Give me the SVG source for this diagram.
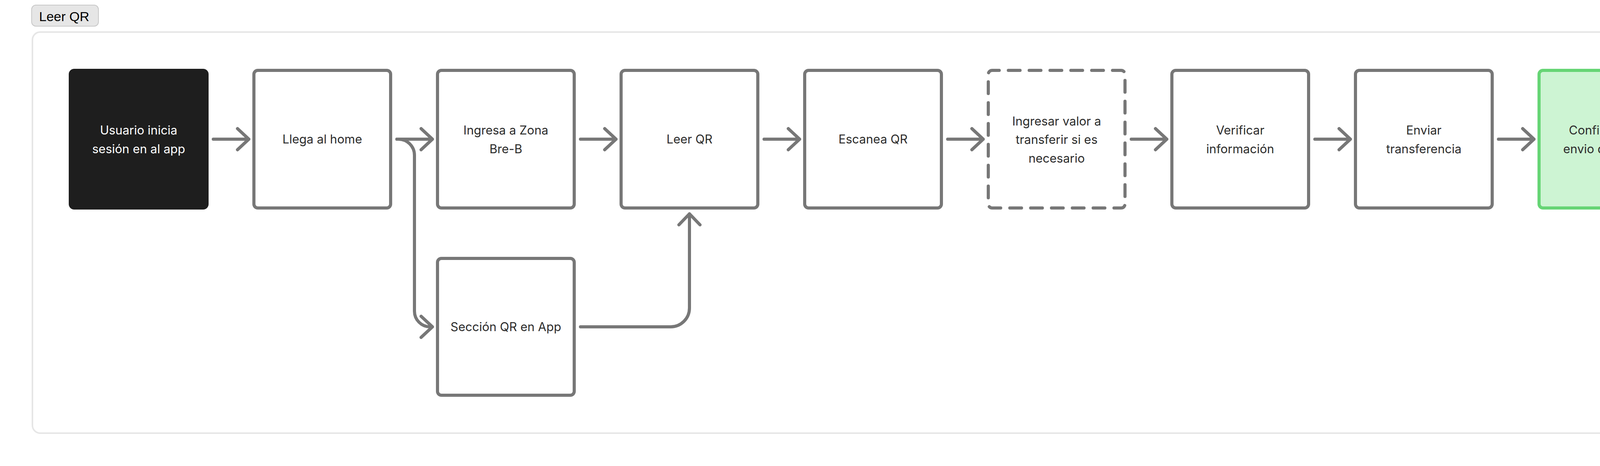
<svg xmlns="http://www.w3.org/2000/svg" width="4472" height="1192" viewBox="0 0 4472 1192">
<style>
.bg{fill:#ffffff}
.frame{fill:#ffffff;stroke:#e6e6e6;stroke-width:4}
.badge{fill:#e6e6e6;stroke:#c8c8c8;stroke-width:2}
.badge-t{font-family:"Liberation Sans",Arial,sans-serif;font-size:34px;fill:#000000}
.node{fill:#ffffff;stroke:#777777;stroke-width:8}
.dark{fill:#1e1e1e;stroke:#1e1e1e;stroke-width:8}
.green{fill:#cdf4d3;stroke:#66d575;stroke-width:8}
.dashed{fill:#ffffff;stroke:#777777;stroke-width:8;stroke-linecap:round;stroke-dasharray:30 23.34;stroke-dashoffset:12}
.t{font-family:Inter,"Noto Sans",sans-serif;font-size:31px;fill:#2c2c2c;text-anchor:middle}
.tw{fill:#ffffff}
.c{fill:none;stroke:#777777;stroke-width:8;stroke-linecap:round;stroke-linejoin:round}
</style>
<rect class="bg" x="0" y="0" width="4472" height="1192"/>
<rect class="frame" x="83" y="82" width="4305" height="1026" rx="20"/>
<g id="title">
<rect class="badge" x="81" y="13" width="171" height="54" rx="11"/>
<text class="badge-t" x="100" y="54">Leer QR</text>
</g>
<g id="n1">
<rect class="dark" x="180" y="180" width="350" height="352" rx="10"/>
<text class="t tw" x="355" y="344">Usuario inicia</text>
<text class="t tw" x="355" y="392">sesión en al app</text>
</g>
<g id="n2">
<rect class="node" x="650" y="180" width="350" height="352" rx="10"/>
<text class="t" x="825" y="367">Llega al home</text>
</g>
<g id="n3">
<rect class="node" x="1120" y="180" width="350" height="352" rx="10"/>
<text class="t" x="1295" y="344">Ingresa a Zona</text>
<text class="t" x="1295" y="392">Bre-B</text>
</g>
<g id="n4">
<rect class="node" x="1590" y="180" width="350" height="352" rx="10"/>
<text class="t" x="1765" y="367">Leer QR</text>
</g>
<g id="n5">
<rect class="node" x="2060" y="180" width="350" height="352" rx="10"/>
<text class="t" x="2235" y="367">Escanea QR</text>
</g>
<g id="n6">
<rect class="dashed" x="2530" y="180" width="350" height="352" rx="10"/>
<text class="t" x="2705" y="321">Ingresar valor a</text>
<text class="t" x="2705" y="368">transferir si es</text>
<text class="t" x="2705" y="416">necesario</text>
</g>
<g id="n7">
<rect class="node" x="3000" y="180" width="350" height="352" rx="10"/>
<text class="t" x="3175" y="344">Verificar</text>
<text class="t" x="3175" y="392">información</text>
</g>
<g id="n8">
<rect class="node" x="3470" y="180" width="350" height="352" rx="10"/>
<text class="t" x="3645" y="344">Enviar</text>
<text class="t" x="3645" y="392">transferencia</text>
</g>
<g id="n9">
<rect class="green" x="3940" y="180" width="350" height="352" rx="10"/>
<text class="t" x="4115" y="344">Confirmación</text>
<text class="t" x="4115" y="392">envio de dinero</text>
</g>
<g id="n10">
<rect class="node" x="1120" y="661" width="350" height="350" rx="10"/>
<text class="t" x="1295" y="847">Sección QR en App</text>
</g>
<g id="connectors">
<path class="c" d="M546 356 H637 M608 329 L637 356 L608 383"/>
<path class="c" d="M1016 356 H1107 M1078 329 L1107 356 L1078 383"/>
<path class="c" d="M1486 356 H1577 M1548 329 L1577 356 L1548 383"/>
<path class="c" d="M1956 356 H2047 M2018 329 L2047 356 L2018 383"/>
<path class="c" d="M2426 356 H2517 M2488 329 L2517 356 L2488 383"/>
<path class="c" d="M2896 356 H2987 M2958 329 L2987 356 L2958 383"/>
<path class="c" d="M3366 356 H3457 M3428 329 L3457 356 L3428 383"/>
<path class="c" d="M3836 356 H3927 M3898 329 L3927 356 L3898 383"/>
<path class="c" d="M1016 356 H1020 A41 41 0 0 1 1061 397 V796 A40 40 0 0 0 1101 836 H1107 M1078 809 L1107 836 L1078 863"/>
<path class="c" d="M1486 836 H1717 A48 48 0 0 0 1765 788 V547 M1738 575 L1765 547 L1792 575"/>
</g>
</svg>
